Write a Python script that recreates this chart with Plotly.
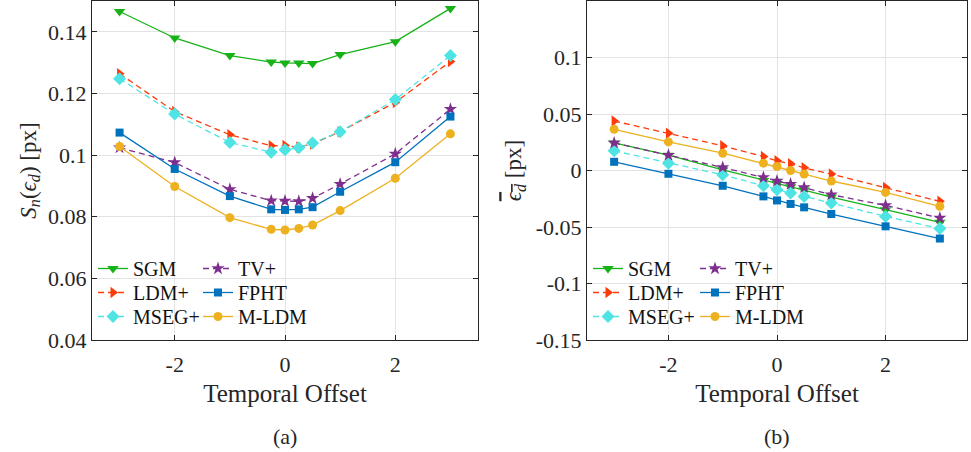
import plotly.graph_objects as go

offsets = [-3, -2, -1, -0.25, 0, 0.25, 0.5, 1, 2, 3]

methods = ["SGM", "LDM+", "MSEG+", "TV+", "FPHT", "M-LDM"]

# (a) S_n(eps_d) [px]
sn_sgm = [0.1466, 0.1380, 0.1323, 0.1302, 0.1299, 0.1299, 0.1297, 0.1326, 0.1368, 0.1476]
sn_ldm = [0.1264, 0.1141, 0.1066, 0.1030, 0.1031, 0.1026, 0.1036, 0.1076, 0.1171, 0.1304]
sn_mseg = [0.1248, 0.1133, 0.1041, 0.1009, 0.1017, 0.1024, 0.1039, 0.1076, 0.1180, 0.1323]
sn_tv = [0.1024, 0.0976, 0.0889, 0.0852, 0.0851, 0.0850, 0.0860, 0.0906, 0.1004, 0.1149]
sn_fpht = [0.1073, 0.0955, 0.0867, 0.0824, 0.0822, 0.0824, 0.0831, 0.0881, 0.0977, 0.1125]
sn_mldm = [0.1028, 0.0898, 0.0797, 0.0759, 0.0757, 0.0762, 0.0773, 0.0820, 0.0925, 0.1069]

# (b) mean eps_d [px]
me_sgm = [0.0244, 0.0136, 0.0006, -0.0088, -0.0114, -0.0144, -0.0173, -0.0235, -0.0347, -0.0459]
me_ldm = [0.0438, 0.0330, 0.0218, 0.0123, 0.0086, 0.0059, 0.0024, -0.0032, -0.0150, -0.0273]
me_mseg = [0.0174, 0.0065, -0.0038, -0.0135, -0.0170, -0.0199, -0.0229, -0.0288, -0.0406, -0.0514]
me_tv = [0.0244, 0.0136, 0.0027, -0.0062, -0.0093, -0.0120, -0.0150, -0.0214, -0.0309, -0.0420]
me_fpht = [0.0077, -0.0029, -0.0135, -0.0229, -0.0265, -0.0296, -0.0326, -0.0385, -0.0494, -0.0602]
me_mldm = [0.0365, 0.0253, 0.0153, 0.0065, 0.0035, 0.0000, -0.0032, -0.0093, -0.0194, -0.0317]

x_tickvals = [-2, 0, 2]
x_ticktext = ["-2", "0", "2"]
ya_tickvals = [0.04, 0.06, 0.08, 0.1, 0.12, 0.14]
ya_ticktext = ["0.04", "0.06", "0.08", "0.1", "0.12", "0.14"]
yb_tickvals = [-0.15, -0.1, -0.05, 0, 0.05, 0.1]
yb_ticktext = ["-0.15", "-0.1", "-0.05", "0", "0.05", "0.1"]

# legend grid: row (0..2) and column (0..1) of each entry
styles = {
    "SGM": dict(color="#17b217", dash="solid", symbol="triangle-down", size=10, row=0, col=0),
    "LDM+": dict(color="#ff3a0a", dash="6px,4px", symbol="triangle-right", size=10, row=1, col=0),
    "MSEG+": dict(color="#4ee4e4", dash="6px,4px", symbol="diamond", size=10, row=2, col=0),
    "TV+": dict(color="#7e2f8e", dash="6px,4px", symbol="star", size=10, row=0, col=1),
    "FPHT": dict(color="#0072bd", dash="solid", symbol="square", size=8, row=1, col=1),
    "M-LDM": dict(color="#edb120", dash="solid", symbol="circle", size=9, row=2, col=1),
}

data_a = [sn_sgm, sn_ldm, sn_mseg, sn_tv, sn_fpht, sn_mldm]
data_b = [me_sgm, me_ldm, me_mseg, me_tv, me_fpht, me_mldm]

FONT = "Liberation Serif, Times New Roman, serif"
W, H = 971, 452
ydom = [(H - 340) / H, (H - 1) / H]
ROW_CENTERS = [267, 291, 315]
COLS_A = [93, 198]
COLS_B = [588, 695]

fig = go.Figure()
legends = {}


def legend_def(xpx, row):
    return dict(visible=True, orientation="h", x=xpx / W, y=(H - ROW_CENTERS[row] + 18) / H,
                xanchor="left", yanchor="top",
                bgcolor="rgba(0,0,0,0)", borderwidth=0,
                font=dict(family=FONT, size=20, color="#111111"),
                itemwidth=30, traceorder="normal")


counter = 0
for panel, (datas, xa, ya_, cols) in enumerate([(data_a, "x", "y", COLS_A), (data_b, "x2", "y2", COLS_B)]):
    for name, vals in zip(methods, datas):
        s = styles[name]
        counter += 1
        lid = "legend" if counter == 1 else f"legend{counter}"
        legends[lid] = legend_def(cols[s["col"]], s["row"])
        fig.add_trace(go.Scatter(
            x=offsets, y=vals, name=name, mode="lines+markers", showlegend=True,
            line=dict(color=s["color"], width=1.3, dash=s["dash"]),
            marker=dict(symbol=s["symbol"], size=s["size"], color=s["color"]),
            xaxis=xa, yaxis=ya_, legend=lid))

axis_common = dict(
    showline=True, linecolor="#262626", linewidth=1, mirror="ticks",
    ticks="inside", ticklen=5, tickcolor="#262626", automargin=False,
    showgrid=True, gridcolor="#e3e3e3", gridwidth=1, zeroline=False,
    tickfont=dict(family=FONT, size=22, color="#262626"),
)

XT = dict(text="Temporal Offset", font=dict(family=FONT, size=25, color="#262626"), standoff=8)

fig.update_layout(
    width=W, height=H,
    showlegend=True,
    margin=dict(l=0, r=0, t=0, b=0, autoexpand=False),
    paper_bgcolor="white", plot_bgcolor="white",
    font=dict(family=FONT, color="#262626"),
    xaxis=dict(axis_common, domain=[92 / W, 478 / W], range=[-3.5, 3.5],
               tickvals=x_tickvals, ticktext=x_ticktext, anchor="y",
               ticklabelstandoff=5, title=XT),
    yaxis=dict(axis_common, domain=ydom, range=[0.04, 0.15],
               tickvals=ya_tickvals, ticktext=ya_ticktext, anchor="x",
               title=dict(text="<i>S</i><sub><i>n</i></sub>(<i>ϵ</i><sub><i>d</i></sub>) [px]",
                          font=dict(family=FONT, size=23, color="#262626"), standoff=5)),
    xaxis2=dict(axis_common, domain=[587 / W, 967 / W], range=[-3.5, 3.5],
                tickvals=x_tickvals, ticktext=x_ticktext, anchor="y2",
                ticklabelstandoff=5, title=XT),
    yaxis2=dict(axis_common, domain=ydom, range=[-0.15, 0.15],
                tickvals=yb_tickvals, ticktext=yb_ticktext, anchor="x2",
                title=dict(text="<span style='text-decoration:overline'><i>ϵ</i><sub><i>d</i></sub></span> [px]",
                           font=dict(family=FONT, size=23, color="#262626"), standoff=7)),
    annotations=[
        dict(text="(a)", x=285 / W, y=(H - 436) / H, xref="paper", yref="paper",
             xanchor="center", yanchor="middle",
             showarrow=False, font=dict(family=FONT, size=22, color="#262626")),
        dict(text="(b)", x=777 / W, y=(H - 436) / H, xref="paper", yref="paper",
             xanchor="center", yanchor="middle",
             showarrow=False, font=dict(family=FONT, size=22, color="#262626")),
    ],
)
fig.update_layout(**legends)

fig.write_html("out.html")
